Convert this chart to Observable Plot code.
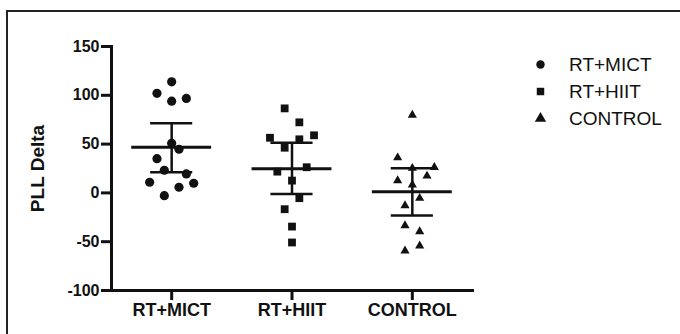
<!DOCTYPE html>
<html>
<head>
<meta charset="utf-8">
<script src="https://cdn.jsdelivr.net/npm/d3@7"></script>
<script src="https://cdn.jsdelivr.net/npm/@observablehq/plot@0.6"></script>
<style>
  html, body { margin: 0; padding: 0; background: #fff; }
  #wrap { position: relative; width: 680px; height: 334px; overflow: hidden; font-family: "Liberation Sans", Arial, sans-serif; }
  #frame { position: absolute; left: 6px; top: 10px; width: 720px; height: 400px; border: 2px solid #222; box-sizing: border-box; }
  #chart { position: absolute; left: 0; top: 0; }
  #legend { position: absolute; left: 533px; top: 51px; }
  .lg-swatches-columns { columns: 1 !important; margin: 0 !important; min-height: 0 !important; }
  .lg-swatch { height: 27px !important; line-height: 27px; display: flex !important; align-items: center; padding: 0 !important; margin: 0 !important; }
  .lg-swatch > svg { margin-right: 21px !important; }
  .lg-swatch, .lg-swatches { font-size: 19px !important; font-family: "Liberation Sans", Arial, sans-serif !important; color: #111 !important; }
</style>
</head>
<body>
<div id="wrap">
  <div id="frame"></div>
  <div id="chart"></div>
  <div id="legend"></div>
</div>
<script>
const groups = ["RT+MICT", "RT+HIIT", "CONTROL"];
const symbols = ["circle", "square", "triangle"];

// individual deltas and their jitter column index
const mictValues = [113.8, 102, 94, 96.8, 50.8, 44.7, 35.1, 23.2, 19.4, 10.9, 9.9, 5.8, -2.8];
const mictCols   = [0, -2, 0, 2, 0, 1, -2, -1, 2, -3, 3, 1, -1];
const hiitValues = [86.6, 72.3, 56.5, 59, 54.9, 46.3, 21.8, 26.3, 12.6, -5.4, -16.7, -34.5, -50.8];
const hiitCols   = [-1, 1, -3, 3, 1, -1, -2, 2, 0, 1, -1, 0, 0];
const ctrlValues = [79.8, 36.1, 26.3, 25.3, 17.4, 12.6, 8.2, -5.4, -13, -33.4, -39.6, -59.3, -54.2];
const ctrlCols   = [0, -2, 3, 0, 2, -2, 0, 1, -1, -1, 1, -1, 1];

// group mean and 95% CI
const means  = [46.7, 24.8, 1.3];
const ciLow  = [21.2, -1.0, -23.2];
const ciHigh = [71.3, 51.4, 25.3];

const yTicks = [-100, -50, 0, 50, 100, 150];

const colStep = 0.061;
const seriesVals = [mictValues, hiitValues, ctrlValues];
const seriesCols = [mictCols, hiitCols, ctrlCols];
const points = [];
seriesVals.forEach((vals, g) => vals.forEach((v, i) => points.push({g, group: groups[g], pos: g + seriesCols[g][i] * colStep, value: v})));
const stats = groups.map((name, g) => ({g, name, mean: means[g], lo: ciLow[g], hi: ciHigh[g]}));

const font = "Liberation Sans, Arial, sans-serif";
const chart = Plot.plot({
  width: 680,
  height: 334,
  marginLeft: 111,
  marginRight: 208,
  marginTop: 46,
  marginBottom: 44,
  style: {fontFamily: font, color: "#111", background: "transparent", overflow: "visible"},
  x: {type: "linear", domain: [-0.5, 2.5]},
  y: {domain: [-100, 150]},
  marks: [
    Plot.axisY({ticks: yTicks, tickFormat: d => String(d), tickSize: 10, tickPadding: 2, strokeWidth: 3, fontSize: 16, fontWeight: "bold", label: null}),
    Plot.axisX({ticks: [0, 1, 2], tickFormat: i => groups[i], tickSize: 10, tickPadding: 3, strokeWidth: 3, fontSize: 18, fontWeight: "bold", label: null}),
    Plot.frame({anchor: "left", strokeWidth: 3}),
    Plot.frame({anchor: "bottom", strokeWidth: 3}),
    Plot.text(["PLL Delta"], {frameAnchor: "left", textAnchor: "middle", rotate: -90, dx: -74, fontSize: 19, fontWeight: "bold"}),
    Plot.dot(points.filter(d => d.g === 0), {x: "pos", y: "value", symbol: "circle", r: 4.6, fill: "#111", stroke: "none"}),
    Plot.dot(points.filter(d => d.g === 1), {x: "pos", y: "value", symbol: "square", r: 4.4, fill: "#111", stroke: "none"}),
    Plot.dot(points.filter(d => d.g === 2), {x: "pos", y: "value", symbol: "triangle", r: 3.4, fill: "#111", stroke: "none"}),
    Plot.ruleY(stats, {y: "mean", x1: d => d.g - 0.332, x2: d => d.g + 0.332, strokeWidth: 3, stroke: "#111"}),
    Plot.ruleY(stats, {y: "hi", x1: d => d.g - 0.175, x2: d => d.g + 0.175, strokeWidth: 2.5, stroke: "#111"}),
    Plot.ruleY(stats, {y: "lo", x1: d => d.g - 0.175, x2: d => d.g + 0.175, strokeWidth: 2.5, stroke: "#111"}),
    Plot.ruleX(stats, {x: "g", y1: "lo", y2: "hi", strokeWidth: 2.5, stroke: "#111"})
  ]
});
document.getElementById("chart").appendChild(chart);

const legend = Plot.legend({
  symbol: {type: "ordinal", domain: groups, range: symbols},
  fill: "#111",
  stroke: "none",
  r: 4.5,
  columns: 1,
  swatchSize: 15,
  className: "lg",
  style: {fontFamily: font, fontSize: "19px"}
});
document.getElementById("legend").appendChild(legend);
</script>
</body>
</html>
